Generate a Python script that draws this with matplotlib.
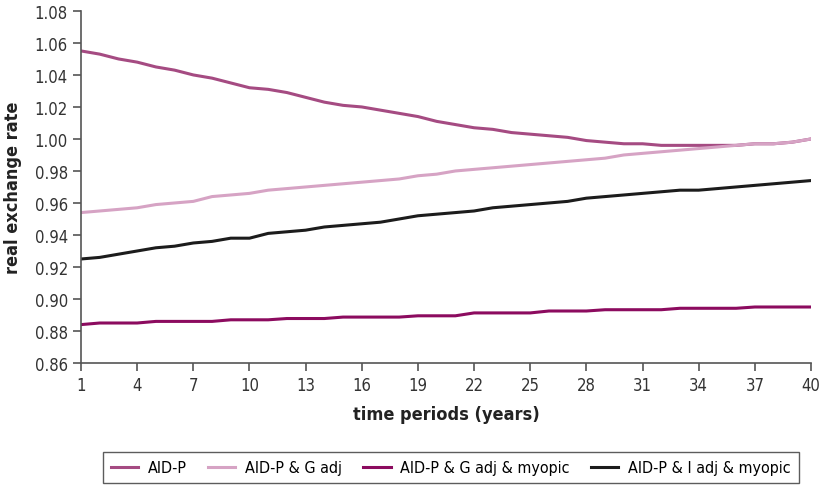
import numpy as np
import matplotlib.pyplot as plt

periods = np.arange(1, 41)

aid_p = [1.055, 1.053, 1.050, 1.048, 1.045, 1.043, 1.040, 1.038, 1.035, 1.032,
         1.031, 1.029, 1.026, 1.023, 1.021, 1.020, 1.018, 1.016, 1.014, 1.011,
         1.009, 1.007, 1.006, 1.004, 1.003, 1.002, 1.001, 0.999, 0.998, 0.997,
         0.997, 0.996, 0.996, 0.996, 0.996, 0.996, 0.997, 0.997, 0.998, 1.000]

aid_p_g = [0.954, 0.955, 0.956, 0.957, 0.959, 0.960, 0.961, 0.964, 0.965, 0.966,
           0.968, 0.969, 0.970, 0.971, 0.972, 0.973, 0.974, 0.975, 0.977, 0.978,
           0.980, 0.981, 0.982, 0.983, 0.984, 0.985, 0.986, 0.987, 0.988, 0.990,
           0.991, 0.992, 0.993, 0.994, 0.995, 0.996, 0.997, 0.997, 0.998, 1.000]

aid_p_g_myopic = [0.884, 0.885, 0.885, 0.885, 0.886, 0.886, 0.886, 0.886, 0.887, 0.887,
                  0.887, 0.8878, 0.8878, 0.8878, 0.8887, 0.8887, 0.8887, 0.8887, 0.8895, 0.8895,
                  0.8895, 0.8913, 0.8913, 0.8913, 0.8913, 0.8925, 0.8925, 0.8925, 0.8933, 0.8933,
                  0.8933, 0.8933, 0.8942, 0.8942, 0.8942, 0.8942, 0.895, 0.895, 0.895, 0.895]

aid_p_i_myopic = [0.925, 0.926, 0.928, 0.930, 0.932, 0.933, 0.935, 0.936, 0.938, 0.938,
                  0.941, 0.942, 0.943, 0.945, 0.946, 0.947, 0.948, 0.950, 0.952, 0.953,
                  0.954, 0.955, 0.957, 0.958, 0.959, 0.960, 0.961, 0.963, 0.964, 0.965,
                  0.966, 0.967, 0.968, 0.968, 0.969, 0.970, 0.971, 0.972, 0.973, 0.974]

labels = ["AID-P", "AID-P & G adj", "AID-P & G adj & myopic", "AID-P & I adj & myopic"]
colors = ["#a54b82", "#d6a3c4", "#8c0b5f", "#1c1c1c"]

plt.rcParams['font.family'] = ['DejaVu Sans']
plt.rcParams['font.stretch'] = 'condensed'

fig = plt.figure(figsize=(8.21, 4.89), dpi=100)
ax = fig.add_axes([0.0987, 0.2556, 0.8891, 0.72])

for vals, lab, col in zip([aid_p, aid_p_g, aid_p_g_myopic, aid_p_i_myopic], labels, colors):
    ax.plot(periods, vals, color=col, lw=2.2, label=lab)

ax.set_xlim(1, 40)
ax.set_ylim(0.86, 1.08)
ax.set_xticks(np.arange(1, 41, 3))
ax.set_yticks(np.arange(0.86, 1.081, 0.02))
ax.yaxis.set_major_formatter(plt.FormatStrFormatter('%.2f'))

for s in ["top", "right"]:
    ax.spines[s].set_visible(False)
for s in ["left", "bottom"]:
    ax.spines[s].set_color("#555555")
    ax.spines[s].set_linewidth(1.2)
ax.tick_params(colors="#555555", labelcolor="#333333", labelsize=12, length=6, width=1.2)

ax.set_xlabel("time periods (years)", fontsize=13, fontweight="bold", color="#222222", labelpad=8)
ax.set_ylabel("real exchange rate", fontsize=13, fontweight="bold", color="#222222", labelpad=9)

leg = fig.legend(loc="lower center", bbox_to_anchor=(0.549, 0.01), ncol=4, fontsize=11.5,
                 frameon=True, fancybox=False, edgecolor="#333333", handlelength=1.7,
                 handletextpad=0.6, columnspacing=1.35, borderpad=0.5, borderaxespad=0)
leg.get_frame().set_linewidth(1.0)

fig.savefig("out.png", dpi=100)
